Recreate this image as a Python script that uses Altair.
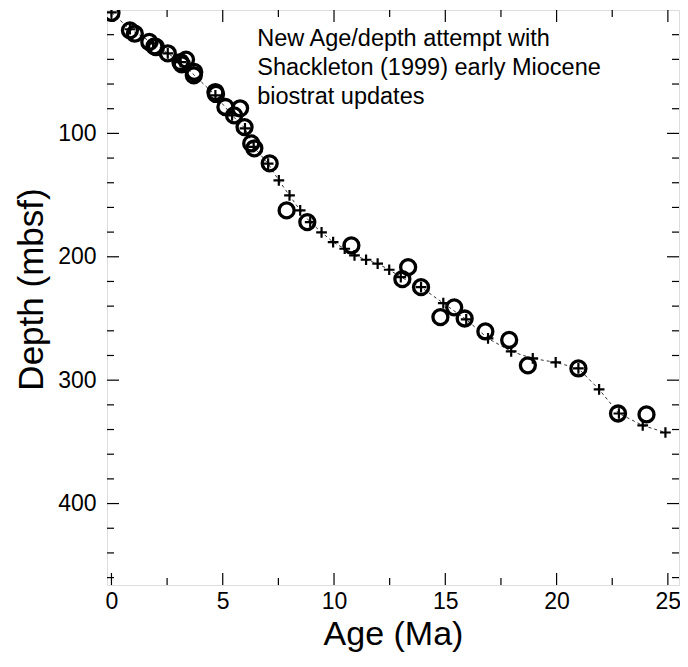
import altair as alt
import pandas as pd

# Biostratigraphic datums (open circles): age (Ma), depth (mbsf)
circle_age = [0.0, 0.83, 1.05, 1.7, 1.93, 2.0, 2.53, 3.1, 3.16, 3.35, 3.7, 3.72,
              4.67, 4.7, 5.12, 5.51, 5.78, 5.98, 6.28, 6.42, 7.11, 7.87, 8.8,
              10.78, 13.33, 13.07, 13.91, 14.78, 15.4, 15.87, 16.8, 17.87,
              18.71, 20.98, 22.76, 24.04]
circle_depth = [2.4, 16.5, 19.2, 25.9, 29.5, 30.0, 35.1, 42.2, 44.0, 40.2, 52.9, 50.2,
                66.5, 68.0, 78.6, 85.4, 79.7, 94.9, 108.1, 112.1, 124.3, 162.4,
                171.9, 190.8, 208.4, 218.1, 224.6, 248.9, 241.0, 250.0, 260.5,
                267.4, 288.0, 290.5, 327.0, 327.8]

# Age-model tie points (plus markers joined by dashed line)
tie_age = [0.0, 0.83, 1.87, 2.53, 3.11, 4.67, 5.42, 6.0, 6.39, 7.04, 7.52,
           8.0, 8.48, 8.93, 9.44, 9.96, 10.48, 10.92, 11.44, 11.96, 12.48,
           13.0, 13.91, 14.91, 15.94, 16.92, 17.96, 18.93, 19.96, 20.98,
           21.91, 22.8, 23.87, 24.89]
tie_depth = [2.0, 15.6, 27.0, 35.1, 42.2, 69.2, 85.4, 95.9, 110.9, 124.5, 138.1,
             150.3, 162.4, 171.9, 180.2, 188.1, 193.5, 198.9, 202.4, 205.6,
             210.5, 216.5, 224.6, 237.6, 250.8, 266.2, 276.7, 282.4, 285.6,
             290.5, 307.5, 327.0, 336.7, 342.4]

x_major = [0, 5, 10, 15, 20, 25]
x_minor = [2.5, 7.5, 12.5, 17.5, 22.5]
y_major = [100, 200, 300, 400]
y_minor = [20, 40, 60, 80, 120, 140, 160, 180, 220, 240, 260, 280,
           320, 340, 360, 380, 420, 440, 460]

note_lines = ["New Age/depth attempt with",
              "Shackleton (1999) early Miocene",
              "biostrat updates"]
note_age = 6.55
note_depth = 14.0

W, H = 572, 575
FONT = "Liberation Sans"

xs = alt.Scale(domain=[-0.2, 25.5], nice=False, zero=False)
ys = alt.Scale(domain=[0, 466], reverse=True, nice=False, zero=False)

xaxis = alt.Axis(title="Age (Ma)", values=x_major, ticks=False, domain=False,
                 grid=False, labelFontSize=23, labelPadding=5,
                 titleFontSize=34, titleFontWeight="normal", titlePadding=4,
                 labelFont=FONT, titleFont=FONT, labelColor="black",
                 titleColor="black")
yaxis = alt.Axis(title="Depth (mbsf)", values=y_major, ticks=False, domain=False,
                 grid=False, labelFontSize=23, labelPadding=11,
                 titleFontSize=35, titleFontWeight="normal", titlePadding=8,
                 titleY=279,
                 labelFont=FONT, titleFont=FONT, labelColor="black",
                 titleColor="black")


def X(field="age"):
    return alt.X(f"{field}:Q", scale=xs, axis=xaxis)


def Y(field="depth"):
    return alt.Y(f"{field}:Q", scale=ys, axis=yaxis)


circ_df = pd.DataFrame({"age": circle_age, "depth": circle_depth})
tie_df = pd.DataFrame({"age": tie_age, "depth": tie_depth})

line = alt.Chart(tie_df).mark_line(
    color="#333333", strokeWidth=1, strokeDash=[3, 3], clip=True
).encode(x=X(), y=Y(), order="age:Q")

plus = alt.Chart(tie_df).mark_point(
    shape="M-1,0L1,0M0,-1L0,1", size=115, strokeWidth=2.2, color="black",
    filled=False, opacity=1, clip=True
).encode(x=X(), y=Y())

circles = alt.Chart(circ_df).mark_point(
    shape="circle", size=225, strokeWidth=3.3, color="black", filled=False,
    opacity=1, clip=True
).encode(x=X(), y=Y())

tick_layers = []
for xm, ln in [(x_major, 12), (x_minor, 7)]:
    d = pd.DataFrame({"age": xm})
    tick_layers.append(alt.Chart(d).mark_rule(color="black", strokeWidth=1.2).encode(
        x=X(), y=alt.value(H), y2=alt.value(H - ln)))
    tick_layers.append(alt.Chart(d).mark_rule(color="black", strokeWidth=1.2).encode(
        x=X(), y=alt.value(0), y2=alt.value(ln)))
for ym, ln in [(y_major, 12), (y_minor, 7)]:
    d = pd.DataFrame({"depth": ym})
    tick_layers.append(alt.Chart(d).mark_rule(color="black", strokeWidth=1.2).encode(
        y=Y(), x=alt.value(0), x2=alt.value(ln)))
    tick_layers.append(alt.Chart(d).mark_rule(color="black", strokeWidth=1.2).encode(
        y=Y(), x=alt.value(W), x2=alt.value(W - ln)))

note_df = pd.DataFrame({"age": [note_age], "depth": [note_depth],
                        "txt": [note_lines]})
note = alt.Chart(note_df).mark_text(
    align="left", baseline="top", fontSize=23.5, lineHeight=29, font=FONT,
    color="black"
).encode(x=X(), y=Y(), text="txt")

chart = alt.layer(
    *tick_layers, line, plus, circles, note
).properties(
    width=W, height=H,
    autosize=alt.AutoSizeParams(type="none"),
    padding={"left": 99, "top": 2, "right": 1, "bottom": 70},
).configure_view(
    stroke="black", strokeWidth=2
).configure(background="white")

chart.save("out.html", embed_options={"renderer": "svg", "actions": False})
